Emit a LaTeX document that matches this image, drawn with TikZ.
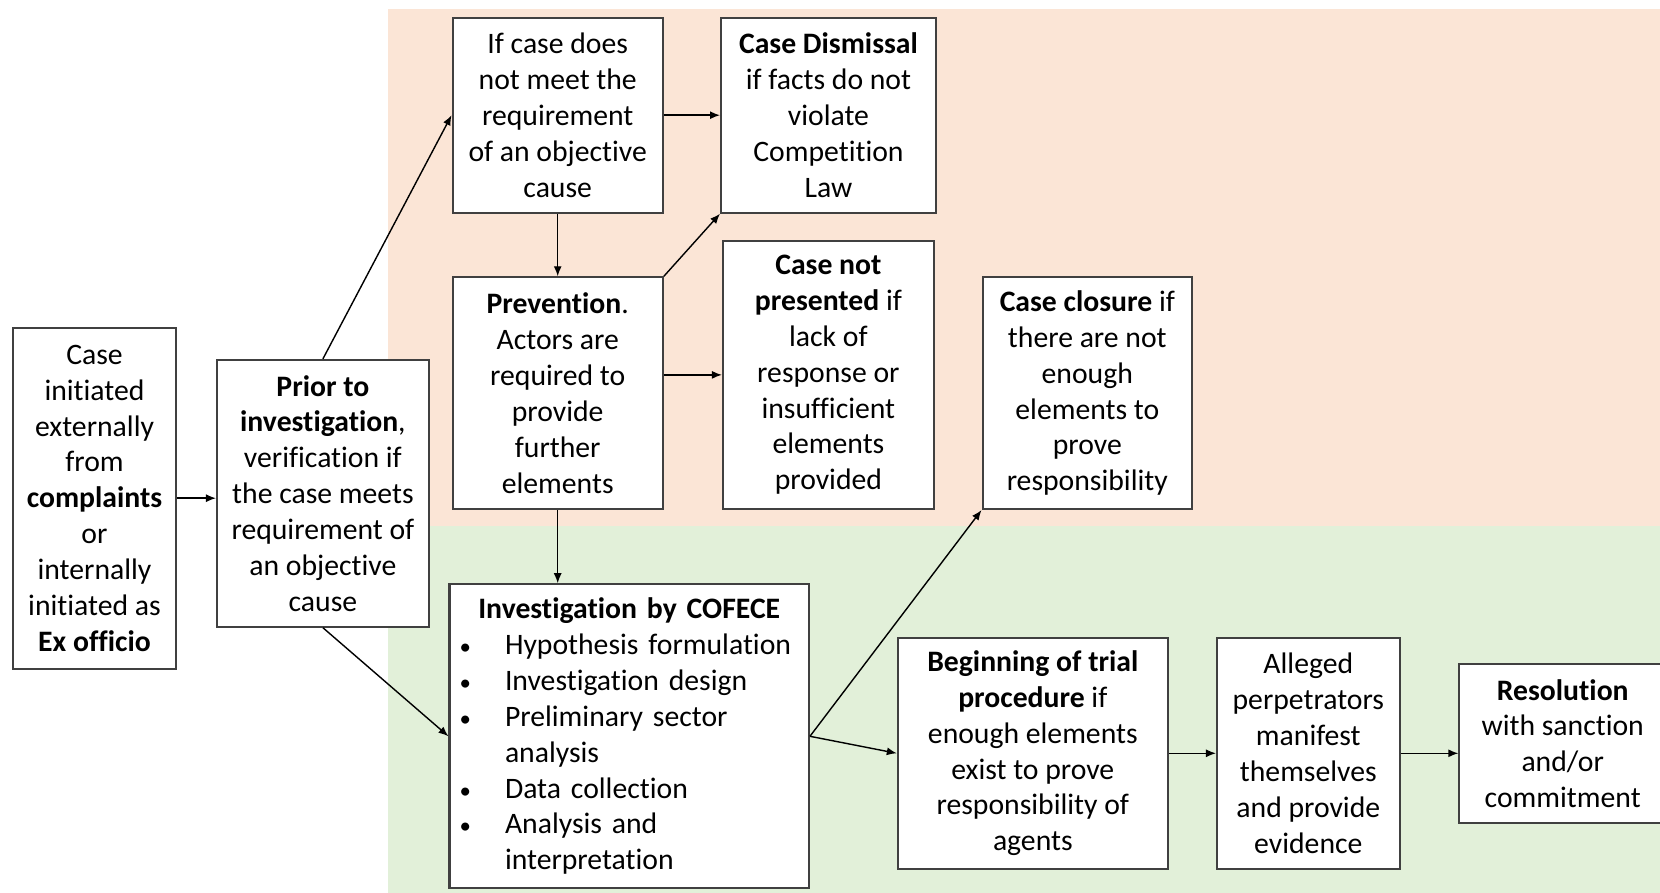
\documentclass[tikz,border=0pt]{standalone}
\usepackage{fontspec}
\setmainfont{Carlito}[Ligatures=NoCommon]
\usetikzlibrary{arrows.meta}

\definecolor{durazno}{HTML}{FBE5D6}
\definecolor{verde}{HTML}{E2F0D9}
\definecolor{borde}{HTML}{404040}

\tikzset{
    caja/.style={draw=borde, line width=0.6pt, fill=white, inner sep=0pt,
        align=center, font=\fontsize{8.45}{10.2}\selectfont},
    flecha/.style={-{Latex[length=0.1cm,width=0.08cm]}, line width=0.4pt}
}
\newcommand{\punto}{\makebox[0.555cm][l]{\hspace{0.1cm}{\fontsize{6.5}{6.5}\selectfont •}}}

\begin{document}
\begin{tikzpicture}

    \useasboundingbox (0,0) rectangle (16.6,-8.93);
    \clip (0,0) rectangle (16.6,-8.93);

    % Fondos
    \fill[durazno] (3.875,-0.09) rectangle (16.6,-5.265);
    \fill[verde] (3.875,-5.265) rectangle (16.6,-8.93);

    % Inicio
    \node[caja, minimum width=1.626cm, minimum height=3.41cm] (case) at (0.945,-4.982)
        {Case\\initiated\\externally\\from\\\textbf{complaints}\\or\\internally\\initiated as\\\textbf{Ex officio}};
    \node[caja, minimum width=2.118cm, minimum height=2.667cm] (prior) at (3.229,-4.933)
        {\textbf{Prior to}\\\textbf{investigation},\\verification if\\the case meets\\requirement of\\an objective\\cause};

    % Zona superior
    \node[caja, minimum width=2.102cm, minimum height=1.95cm] (ifcase) at (5.577,-1.152)
        {If case does\\not meet the\\requirement\\of an objective\\cause};
    \node[caja, minimum width=2.149cm, minimum height=1.95cm] (dismiss) at (8.285,-1.152)
        {\textbf{Case Dismissal}\\if facts do not\\violate\\Competition\\Law};
    \node[caja, minimum width=2.102cm, minimum height=2.317cm] (prev) at (5.577,-3.932)
        {\textbf{Prevention}.\\Actors are\\required to\\provide\\further\\elements};
    \node[caja, minimum width=2.108cm, minimum height=2.683cm] (notpres) at (8.284,-3.749)
        {\textbf{Case not}\\\textbf{presented} if\\lack of\\response or\\insufficient\\elements\\provided};
    \node[caja, minimum width=2.095cm, minimum height=2.317cm] (closure) at (10.873,-3.932)
        {\textbf{Case closure} if\\there are not\\enough\\elements to\\prove\\responsibility};

    % Zona inferior
    \node[caja, minimum width=3.594cm, minimum height=3.04cm, text width=3.594cm, align=left] (invest) at (6.292,-7.363)
        {{\centering\textbf{Investigation by COFECE}\par}
         \punto Hypothesis formulation\\
         \punto Investigation design\\
         \punto Preliminary sector\\
         \hspace*{0.555cm}analysis\\
         \punto Data collection\\
         \punto Analysis and\\
         \hspace*{0.555cm}interpretation};
    \node[caja, minimum width=2.699cm, minimum height=2.313cm] (begin) at (10.328,-7.533)
        {\textbf{Beginning of trial}\\\textbf{procedure} if\\enough elements\\exist to prove\\responsibility of\\agents};
    \node[caja, minimum width=1.826cm, minimum height=2.313cm] (alleged) at (13.083,-7.533)
        {Alleged\\perpetrators\\manifest\\themselves\\and provide\\evidence};
    \node[caja, minimum width=2.066cm, minimum height=1.584cm] (res) at (15.627,-7.435)
        {\textbf{Resolution}\\with sanction\\and/or\\commitment};

    % Flechas
    \draw[flecha] (case.east) -- (case.east -| prior.west);
    \draw[flecha] (prior.north) -- (ifcase.west);
    \draw[flecha] (prior.south) -- (invest.west);
    \draw[flecha] (ifcase.east) -- (dismiss.west);
    \draw[flecha] (ifcase.south) -- (prev.north);
    \draw[flecha] (prev.north east) -- (dismiss.south west);
    \draw[flecha] (prev.east |- notpres.west) -- (notpres.west);
    \draw[flecha] (prev.south) -- (prev.south |- invest.north);
    \draw[flecha] (invest.east) -- (closure.south west);
    \draw[flecha] (invest.east) -- (begin.west);
    \draw[flecha] (begin.east) -- (alleged.west);
    \draw[flecha] (alleged.east) -- (alleged.east -| res.west);

\end{tikzpicture}
\end{document}
